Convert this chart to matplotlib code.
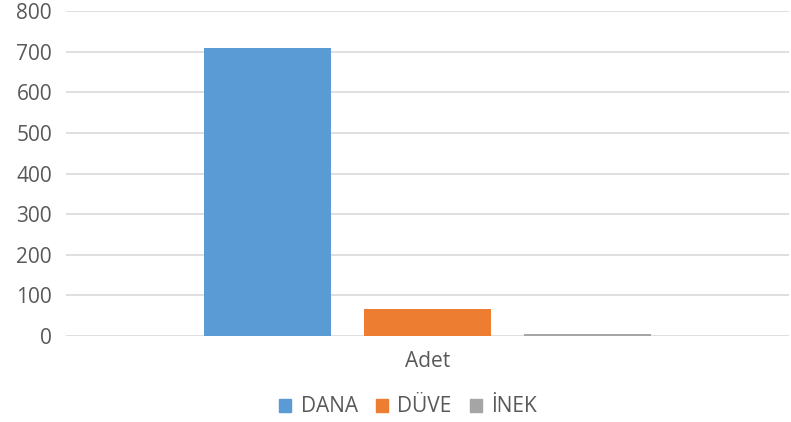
import numpy as np
import matplotlib.pyplot as plt
from matplotlib.patches import Patch

categories = ["Adet"]
series     = ["DANA", "DÜVE", "İNEK"]
values     = [709, 66, 4]
colors     = ["#5b9bd5", "#ed7d31", "#a5a5a5"]
yticks     = [0, 100, 200, 300, 400, 500, 600, 700, 800]

TXT = "#595959"
plt.rcParams["font.family"] = ["Open Sans", "DejaVu Sans"]

fig = plt.figure(figsize=(7.91, 4.22), dpi=100)
ax = fig.add_axes([66 / 791, 86 / 422, 723 / 791, 325 / 422])

width = 0.1757
offsets = [-0.2213, 0.0, 0.2213]
x = np.arange(len(categories))
for name, val, col, off in zip(series, values, colors, offsets):
    ax.bar(x + off, [val], width=width, color=col, label=name, zorder=3)

ax.set_xlim(-0.5, 0.5)
ax.set_ylim(0, 800)
ax.set_yticks(yticks)
ax.set_xticks(x)
ax.set_xticklabels(categories)
ax.grid(axis="y", color="#d9d9d9", lw=1.2, zorder=0)
for s in ax.spines.values():
    s.set_visible(False)
ax.tick_params(axis="both", length=0, labelsize=15, labelcolor=TXT)
ax.tick_params(axis="y", pad=10)
ax.tick_params(axis="x", pad=11)

handles = [Patch(color=c, label=n) for n, c in zip(series, colors)]
fig.legend(handles=handles, loc="center", bbox_to_anchor=(408 / 791, 1 - 407 / 422),
           ncol=3, frameon=False, fontsize=15, labelcolor=TXT,
           handlelength=0.6, handleheight=0.6, handletextpad=0.45, columnspacing=0.85)

fig.savefig("out.png", dpi=100)
